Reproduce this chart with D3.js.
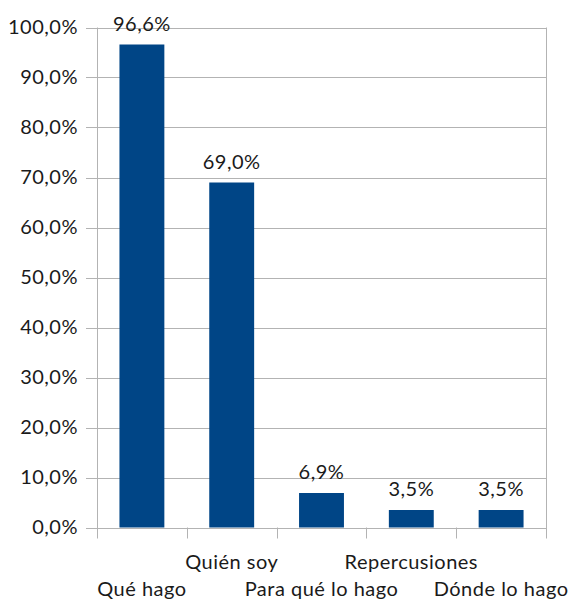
<!DOCTYPE html>
<html>
<head>
<meta charset="utf-8">
<script src="https://cdn.jsdelivr.net/npm/d3@7"></script>
<style>
  body { margin: 0; background: #fff; }
  text { font-family: Lato, "Open Sans", sans-serif; fill: #1a1a1a; letter-spacing: 0.5px; }
</style>
</head>
<body>
<div id="chart"></div>
<script>
// chart data
let categories = ['Qué hago', 'Quién soy', 'Para qué lo hago', 'Repercusiones', 'Dónde lo hago'];
let values = [96.6, 69.0, 6.9, 3.5, 3.5];
let yTicks = [0, 10, 20, 30, 40, 50, 60, 70, 80, 90, 100];

let width = 575, height = 603;
let margin = {top: 27.5, left: 97, right: 29, bottom: 75.5};

let svg = d3.select('#chart')
  .append('svg')
    .attr('width', width)
    .attr('height', height);

let xScale = d3.scaleBand()
  .domain(categories)
  .range([margin.left, width - margin.right])
  .paddingInner(0.5)
  .paddingOuter(0.25);

let yScale = d3.scaleLinear()
  .domain([0, 100])
  .range([height - margin.bottom, margin.top]);

let fmt = d => d3.format('.1f')(d).replace('.', ',') + '%';

// gridlines
svg.append('g')
  .selectAll('line')
  .data(yTicks)
  .join('line')
    .attr('x1', margin.left - 11)
    .attr('x2', width - margin.right)
    .attr('y1', d => Math.round(yScale(d)) + 0.5)
    .attr('y2', d => Math.round(yScale(d)) + 0.5)
    .style('stroke', '#b3b3b3')
    .style('stroke-width', 1);

// y axis line and right border
svg.append('line')
  .attr('x1', margin.left + 0.5).attr('x2', margin.left + 0.5)
  .attr('y1', yScale(100)).attr('y2', yScale(0) + 11)
  .style('stroke', '#b3b3b3');
svg.append('line')
  .attr('x1', width - margin.right + 0.5).attr('x2', width - margin.right + 0.5)
  .attr('y1', yScale(100)).attr('y2', yScale(0) + 11)
  .style('stroke', '#b3b3b3');

// x ticks at category boundaries
let bw = xScale.step();
svg.append('g')
  .selectAll('line')
  .data(categories.slice(1))
  .join('line')
    .attr('x1', d => Math.round(xScale(d) - bw * 0.25) + 0.5)
    .attr('x2', d => Math.round(xScale(d) - bw * 0.25) + 0.5)
    .attr('y1', yScale(0))
    .attr('y2', yScale(0) + 11)
    .style('stroke', '#b3b3b3');

// y labels
svg.append('g')
  .selectAll('text')
  .data(yTicks)
  .join('text')
    .attr('x', margin.left - 19)
    .attr('y', d => yScale(d) + 6)
    .attr('text-anchor', 'end')
    .style('font-size', '20px')
    .text(fmt);

// bars
svg.append('g')
  .selectAll('rect')
  .data(values)
  .join('rect')
    .attr('x', (d, i) => xScale(categories[i]))
    .attr('width', xScale.bandwidth())
    .attr('y', d => yScale(d))
    .attr('height', d => yScale(0) - yScale(d))
    .style('fill', '#004586');

// value labels
svg.append('g')
  .selectAll('text')
  .data(values)
  .join('text')
    .attr('x', (d, i) => xScale(categories[i]) + xScale.bandwidth() / 2)
    .attr('y', d => yScale(d) - 14)
    .attr('text-anchor', 'middle')
    .style('font-size', '20px')
    .text(fmt);

// category labels, staggered
svg.append('g')
  .selectAll('text')
  .data(categories)
  .join('text')
    .attr('x', d => xScale(d) + xScale.bandwidth() / 2)
    .attr('y', (d, i) => i % 2 === 0 ? 596 : 569)
    .attr('text-anchor', 'middle')
    .style('font-size', '20px')
    .text(d => d);
</script>
</body>
</html>
